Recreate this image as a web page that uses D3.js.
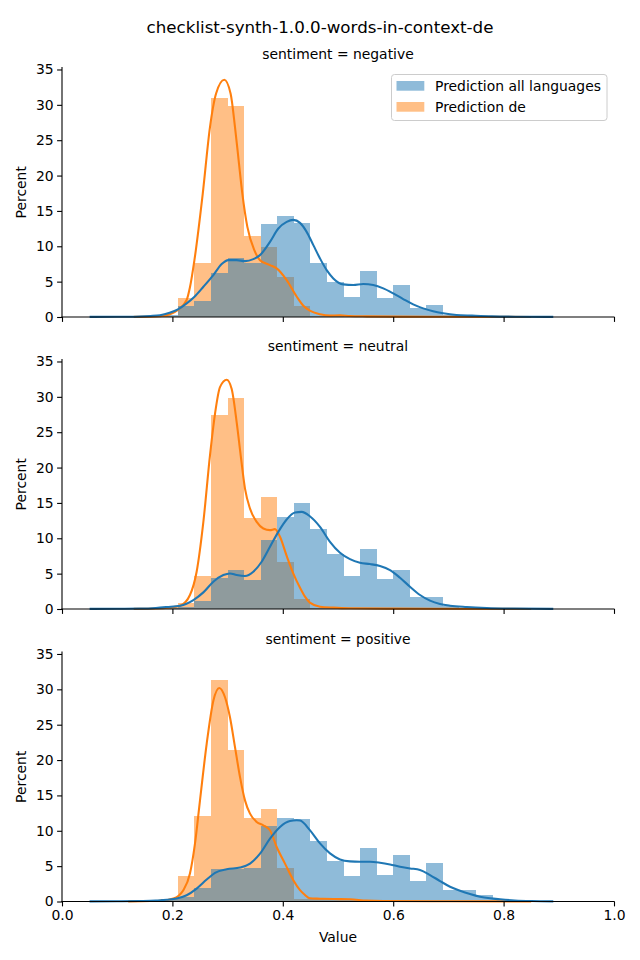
<!DOCTYPE html>
<html>
<head>
<meta charset="utf-8">
<script src="https://cdn.jsdelivr.net/npm/d3@7"></script>
<style>
  html, body { margin: 0; padding: 0; background: #fff; }
  svg { display: block; font-family: "DejaVu Sans", sans-serif; }
</style>
</head>
<body>
<svg id="chart" width="640" height="960"></svg>
<script>
// ---------------- DATA ----------------
const chartTitle = "checklist-synth-1.0.0-words-in-context-de";
const categories = ["negative", "neutral", "positive"];
const seriesNames = ["Prediction all languages", "Prediction de"];
const xTicks = [0.0, 0.2, 0.4, 0.6, 0.8, 1.0];
const yTicks = [0, 5, 10, 15, 20, 25, 30, 35];

const binEdges = [0.06, 0.09, 0.12, 0.15, 0.18, 0.21, 0.24, 0.27, 0.30, 0.33,
  0.36, 0.39, 0.42, 0.45, 0.48, 0.51, 0.54, 0.57, 0.60, 0.63,
  0.66, 0.69, 0.72, 0.75, 0.78, 0.81, 0.84, 0.87, 0.90];

// histogram percents (one value per bin)
const allNegative = [0.05, 0.05, 0.1, 0.15, 0.3, 1.55, 2.26, 6.26, 8.33, 7.67, 13.12, 14.25, 13.31, 7.67, 4.99, 2.82, 6.49, 2.68, 4.52, 1.27, 1.69, 0.3, 0.15, 0.1, 0.05, 0.05, 0.03, 0.03];
const deNegative  = [0, 0, 0, 0, 0.1, 2.68, 7.67, 30.95, 29.77, 11.48, 9.88, 5.64, 1.55, 0.15, 0.15, 0.05, 0, 0, 0, 0, 0, 0, 0, 0, 0, 0, 0, 0];
const allNeutral  = [0.05, 0.05, 0.1, 0.15, 0.2, 0.3, 1.13, 4.42, 5.5, 4.09, 9.78, 12.98, 14.96, 11.29, 7.76, 4.66, 8.47, 4.23, 5.5, 1.69, 1.69, 0.4, 0.2, 0.1, 0.05, 0.05, 0.03, 0.03];
const deNeutral   = [0, 0, 0, 0, 0.1, 0.85, 4.66, 27.38, 29.77, 12.84, 15.8, 6.63, 1.41, 0.2, 0.1, 0.05, 0, 0, 0, 0, 0, 0, 0, 0, 0, 0, 0, 0];
const allPositive = [0.05, 0.05, 0.1, 0.15, 0.3, 0.66, 1.88, 4.56, 4.56, 4.7, 10.68, 11.76, 11.64, 8.54, 5.71, 3.6, 7.55, 3.74, 6.56, 2.89, 5.43, 1.62, 1.62, 0.87, 0.4, 0.15, 0.05, 0.03];
const dePositive  = [0, 0, 0, 0.05, 0.4, 3.57, 12.09, 31.37, 21.4, 11.8, 13.03, 4.7, 0.4, 0.3, 0.3, 0.2, 0.1, 0.05, 0, 0, 0, 0, 0, 0, 0, 0, 0, 0];

// KDE curves, [value, percent]
const kdeAllNegative = [[0.05,0.02],[0.10,0.03],[0.14,0.08],[0.16,0.15],[0.1775,0.25],[0.195,0.6],[0.21,1.08],[0.2258,1.93],[0.24,2.87],[0.2561,4.28],[0.2742,5.93],[0.2893,7.48],[0.3013,8.04],[0.3164,8.04],[0.3315,7.9],[0.3466,8.18],[0.3587,8.75],[0.3768,10.63],[0.3919,12.51],[0.407,13.45],[0.4191,13.73],[0.4312,13.31],[0.4432,12.04],[0.4553,10.16],[0.4674,8.28],[0.4795,6.63],[0.4915,5.46],[0.5096,4.61],[0.5277,4.52],[0.5458,4.66],[0.5639,4.52],[0.582,4.05],[0.6,3.34],[0.6181,2.54],[0.6362,1.79],[0.6543,1.22],[0.6723,0.8],[0.6904,0.52],[0.7146,0.28],[0.7428,0.19],[0.779,0.09],[0.83,0.04],[0.89,0.02]];
const kdeDeNegative = [[0.13,0.02],[0.16,0.05],[0.1775,0.12],[0.1957,0.4],[0.21,1.0],[0.2258,2.4],[0.2318,4.2],[0.2399,8.04],[0.255,17.45],[0.2681,26.86],[0.279,31.56],[0.294,33.54],[0.3055,31.56],[0.3134,26.86],[0.32,22.15],[0.3267,17.45],[0.3358,12.75],[0.3484,9.45],[0.3587,8.04],[0.3768,7.34],[0.3889,6.87],[0.407,5.22],[0.4251,2.9],[0.4372,1.6],[0.449,0.9],[0.4674,0.4],[0.4855,0.2],[0.5036,0.24],[0.5217,0.14],[0.5519,0.09],[0.6,0.05],[0.7,0.03],[0.85,0.01]];
const kdeAllNeutral = [[0.05,0.02],[0.10,0.03],[0.14,0.06],[0.17,0.15],[0.19,0.28],[0.2142,0.47],[0.238,1.27],[0.2561,2.35],[0.2742,3.86],[0.2923,4.8],[0.3043,5.03],[0.3164,4.8],[0.3315,4.66],[0.3466,5.27],[0.3617,6.68],[0.3768,8.8],[0.3919,10.91],[0.407,12.65],[0.4221,13.64],[0.4342,13.73],[0.449,13.12],[0.4674,11.62],[0.4855,9.5],[0.5036,7.95],[0.5217,7.05],[0.5398,6.54],[0.5579,6.35],[0.5761,6.07],[0.5942,5.5],[0.6123,4.42],[0.6304,3.15],[0.6486,1.98],[0.6667,1.18],[0.6848,0.71],[0.7029,0.47],[0.7331,0.28],[0.7693,0.14],[0.82,0.06],[0.89,0.02]];
const kdeDeNeutral = [[0.13,0.02],[0.17,0.06],[0.195,0.2],[0.2142,0.47],[0.2318,1.98],[0.2439,5.27],[0.2561,12.32],[0.2681,21.73],[0.2772,27.6],[0.2862,31.37],[0.2983,32.41],[0.3073,31.14],[0.3164,26.43],[0.3237,21.73],[0.3315,17.03],[0.3406,14.2],[0.3527,12.32],[0.3647,11.38],[0.3768,11.15],[0.3858,11.29],[0.3949,10.21],[0.407,7.5],[0.4191,5.0],[0.4312,3.0],[0.4402,1.74],[0.449,0.9],[0.4674,0.33],[0.4915,0.19],[0.52,0.1],[0.6,0.05],[0.7,0.03],[0.85,0.01]];
const kdeAllPositive = [[0.05,0.02],[0.10,0.04],[0.14,0.07],[0.17,0.12],[0.19,0.25],[0.2077,0.42],[0.2258,0.89],[0.2439,1.83],[0.2621,3.1],[0.2772,4.05],[0.2983,4.56],[0.3225,4.8],[0.3406,5.36],[0.3587,6.77],[0.3768,8.89],[0.3949,10.54],[0.413,11.38],[0.4251,11.48],[0.4312,11.45],[0.449,10.09],[0.4674,8.21],[0.4855,6.8],[0.5036,5.95],[0.5217,5.67],[0.5398,5.62],[0.5579,5.62],[0.5761,5.48],[0.5942,5.24],[0.6123,4.92],[0.6304,4.68],[0.6486,4.45],[0.6667,3.74],[0.6848,2.89],[0.7029,2.09],[0.721,1.53],[0.7391,1.06],[0.7572,0.68],[0.7754,0.45],[0.7935,0.31],[0.82,0.15],[0.85,0.06],[0.89,0.02]];
const kdeDePositive = [[0.12,0.02],[0.16,0.06],[0.1775,0.1],[0.2017,0.42],[0.2198,1.6],[0.2318,3.95],[0.2409,8.18],[0.25,14.3],[0.2621,22.3],[0.2742,28.4],[0.285,30.2],[0.2953,28.88],[0.3043,26.06],[0.3134,21.83],[0.3225,17.59],[0.3315,14.3],[0.3406,12.42],[0.3527,11.24],[0.3647,10.77],[0.3768,10.07],[0.3889,7.71],[0.404,5.36],[0.4191,3.01],[0.4312,1.6],[0.4402,0.92],[0.449,0.45],[0.4674,0.4],[0.4915,0.35],[0.5217,0.31],[0.5519,0.12],[0.582,0.07],[0.7,0.03],[0.85,0.01]];

// ---------------- LAYOUT / STYLE ----------------
const colors = ["#1f77b4", "#ff7f0e"];
const panels = [
  { cat: categories[0], all: allNegative, de: deNegative, kAll: kdeAllNegative, kDe: kdeDeNegative },
  { cat: categories[1], all: allNeutral,  de: deNeutral,  kAll: kdeAllNeutral,  kDe: kdeDeNeutral },
  { cat: categories[2], all: allPositive, de: dePositive, kAll: kdeAllPositive, kDe: kdeDePositive }
];
const left = 62, right = 614;
const bottoms = [317, 609, 901.5];
const axH = 249.5;
const fs = 13.9;

const svg = d3.select("#chart");
svg.append("rect").attr("width", 640).attr("height", 960).attr("fill", "#fff");

svg.append("text").attr("x", 320).attr("y", 33).attr("text-anchor", "middle")
  .attr("font-size", 16.7).attr("fill", "#000").text(chartTitle);

const x = d3.scaleLinear().domain([0, 1]).range([left, right]);

panels.forEach((p, i) => {
  const bottom = bottoms[i];
  const y = d3.scaleLinear().domain([0, 35.28]).range([bottom, bottom - axH]);
  const g = svg.append("g");

  // bars: orange (de) first, then blue on top -> gray overlap
  [[p.de, colors[1]], [p.all, colors[0]]].forEach(([vals, col]) => {
    g.append("g").attr("shape-rendering", "crispEdges")
      .selectAll("rect").data(vals.map((v, k) => ({ v, k })).filter(d => d.v > 0))
      .join("rect")
      .attr("x", d => x(binEdges[d.k]))
      .attr("width", d => x(binEdges[d.k + 1]) - x(binEdges[d.k]))
      .attr("y", d => y(d.v))
      .attr("height", d => y(0) - y(d.v))
      .attr("fill", col).attr("fill-opacity", 0.5);
  });

  const line = d3.line().x(d => x(d[0])).y(d => y(d[1])).curve(d3.curveMonotoneX);
  [[p.kDe, colors[1]], [p.kAll, colors[0]]].forEach(([pts, col]) => {
    g.append("path").datum(pts).attr("d", line)
      .attr("fill", "none").attr("stroke", col).attr("stroke-width", 2.08)
      .attr("stroke-linejoin", "round").attr("stroke-linecap", "butt");
  });

  // axes
  const yAxis = d3.axisLeft(y).tickValues(yTicks).tickSize(4.9).tickPadding(3.5).tickFormat(d3.format("d"));
  const yg = g.append("g").attr("transform", `translate(${left},0)`).call(yAxis);
  const xAxis = d3.axisBottom(x).tickValues(xTicks).tickSize(4.9).tickPadding(3.5)
    .tickFormat(i === 2 ? d3.format(".1f") : () => "");
  const xg = g.append("g").attr("transform", `translate(0,${bottom})`).call(xAxis);
  [yg, xg].forEach(a => {
    a.select(".domain").attr("stroke", "#000").attr("stroke-width", 1.1)
      .attr("d", null);
    a.selectAll(".tick line").attr("stroke", "#000").attr("stroke-width", 1.1);
    a.selectAll(".tick text").attr("font-size", fs).attr("fill", "#000")
      .attr("font-family", "DejaVu Sans");
  });
  yg.select(".domain").remove();
  xg.select(".domain").remove();
  g.append("line").attr("x1", left).attr("x2", left).attr("y1", y(35.28)).attr("y2", bottom)
    .attr("stroke", "#000").attr("stroke-width", 1.1).attr("stroke-linecap", "square");
  g.append("line").attr("x1", left).attr("x2", right).attr("y1", bottom).attr("y2", bottom)
    .attr("stroke", "#000").attr("stroke-width", 1.1).attr("stroke-linecap", "square");

  // panel title
  g.append("text").attr("x", (left + right) / 2).attr("y", bottom - axH - 8.5)
    .attr("text-anchor", "middle").attr("font-size", fs).attr("fill", "#000")
    .text(`sentiment = ${p.cat}`);

  // y label
  const cy = bottom - axH / 2;
  g.append("text").attr("transform", `translate(26,${cy}) rotate(-90)`)
    .attr("text-anchor", "middle").attr("font-size", fs).attr("fill", "#000").text("Percent");

  if (i === 0) {
    const lg = g.append("g").attr("transform", "translate(391.5,74.5)");
    lg.append("rect").attr("width", 215.5).attr("height", 46).attr("rx", 3)
      .attr("fill", "#fff").attr("fill-opacity", 0.8).attr("stroke", "#cccccc").attr("stroke-width", 1);
    seriesNames.forEach((name, j) => {
      lg.append("rect").attr("x", 5).attr("y", 6.5 + j * 21).attr("width", 27.8).attr("height", 9.7)
        .attr("fill", colors[j]).attr("fill-opacity", 0.5);
      lg.append("text").attr("x", 43.5).attr("y", 16 + j * 21).attr("font-size", fs)
        .attr("fill", "#000").text(name);
    });
  }
});

svg.append("text").attr("x", (left + right) / 2).attr("y", 942).attr("text-anchor", "middle")
  .attr("font-size", fs).attr("fill", "#000").text("Value");
</script>
</body>
</html>
